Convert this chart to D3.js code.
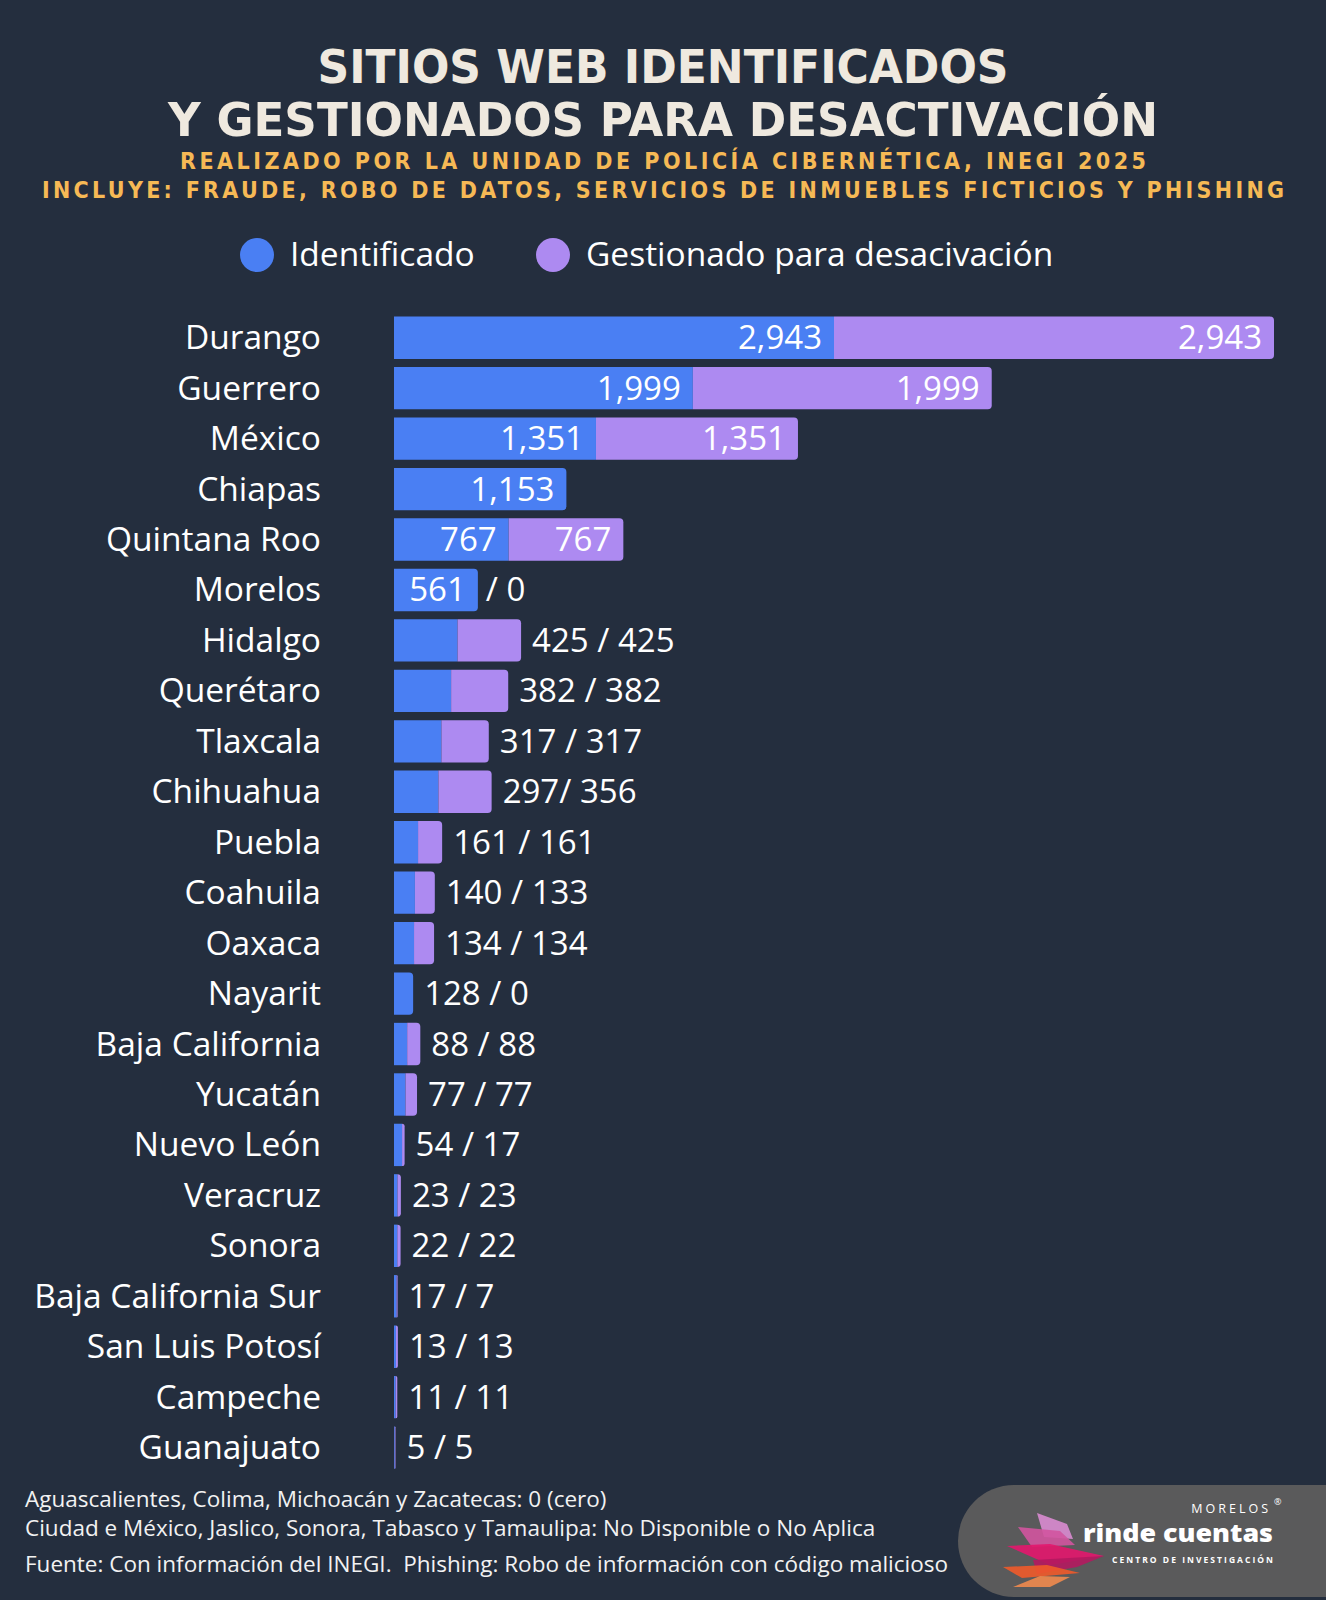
<!DOCTYPE html>
<html><head><meta charset="utf-8">
<script src="https://cdn.jsdelivr.net/npm/d3@7"></script>
<style>
html,body{margin:0;padding:0;background:#242e3e;}
svg{display:block;}
</style></head><body>
<svg id="chart" width="1326" height="1600"></svg>
<script>
// ---------- DATA ----------
const estados = ["Durango","Guerrero","México","Chiapas","Quintana Roo","Morelos","Hidalgo","Querétaro","Tlaxcala","Chihuahua","Puebla","Coahuila","Oaxaca","Nayarit","Baja California","Yucatán","Nuevo León","Veracruz","Sonora","Baja California Sur","San Luis Potosí","Campeche","Guanajuato"];
const identificado = [2943,1999,1351,1153,767,561,425,382,317,297,161,140,134,128,88,77,54,23,22,17,13,11,5];
const gestionado   = [2943,1999,1351,null,767,0,425,382,317,356,161,133,134,0,88,77,17,23,22,7,13,11,5];
const series = ["Identificado","Gestionado para desacivación"];
const titulo = ["SITIOS WEB IDENTIFICADOS","Y GESTIONADOS PARA DESACTIVACIÓN"];
const subtitulo = ["REALIZADO POR LA UNIDAD DE POLICÍA CIBERNÉTICA, INEGI 2025","INCLUYE: FRAUDE, ROBO DE DATOS, SERVICIOS DE INMUEBLES FICTICIOS Y PHISHING"];
const notas = ["Aguascalientes, Colima, Michoacán y Zacatecas: 0 (cero)","Ciudad e México, Jaslico, Sonora, Tabasco y Tamaulipa: No Disponible o No Aplica","Fuente: Con información del INEGI.  Phishing: Robo de información con código malicioso"];

// ---------- STYLE ----------
const W = 1326, H = 1600;
const colores = ["#4a7ff3", "#ad8af1"];
const bg = "#242e3e";
const sans = "'Open Sans', 'Noto Sans', sans-serif";
const display = "'Liberation Sans Narrow', 'DejaVu Sans Condensed', 'Roboto', sans-serif";

const svg = d3.select("#chart");
svg.append("rect").attr("width", W).attr("height", H).attr("fill", bg);

// ---------- TITLES ----------
const titleW = [691, 990];
const titleY = [83, 136];
svg.selectAll("text.title").data(titulo).join("text")
  .attr("class","title")
  .attr("x", W/2).attr("y", (d,i)=>titleY[i])
  .attr("text-anchor","middle")
  .attr("font-family", display).attr("font-weight", 700).attr("font-size", 47)
  .attr("fill", "#efe9df")
  .attr("textLength", (d,i)=>titleW[i]).attr("lengthAdjust","spacingAndGlyphs")
  .text(d=>d);

const subW = [966, 1242];
const subY = [169, 198];
svg.selectAll("text.sub").data(subtitulo).join("text")
  .attr("class","sub")
  .attr("x", W/2).attr("y", (d,i)=>subY[i])
  .attr("text-anchor","middle")
  .attr("font-family", display).attr("font-weight", 700).attr("font-size", 23)
  .attr("fill", "#f6b955")
  .attr("textLength", (d,i)=>subW[i]).attr("lengthAdjust","spacing")
  .text(d=>d);

// ---------- LEGEND ----------
const legX = [257, 553];
const leg = svg.selectAll("g.leg").data(series).join("g").attr("class","leg")
  .attr("transform", (d,i)=>`translate(${legX[i]},255)`);
leg.append("circle").attr("r", 17).attr("fill", (d,i)=>colores[i]);
leg.append("text").attr("x", 33).attr("y", 11)
  .attr("font-family", sans).attr("font-size", 33.5).attr("fill", "#ffffff")
  .text(d=>d);

// ---------- SCALES ----------
const y = d3.scaleBand().domain(estados)
  .range([312.5, 312.5 + estados.length * 50.45])
  .paddingInner(0.16).paddingOuter(0.08);
const x = d3.scaleLinear().domain([0, 2943*2]).range([394, 1274]);
const fmt = d3.format(",");

// category labels
svg.append("g").selectAll("text").data(estados).join("text")
  .attr("x", 321).attr("y", d => y(d) + y.bandwidth()/2 + 11.5)
  .attr("text-anchor","end")
  .attr("font-family", sans).attr("font-size", 33.5).attr("fill", "#ffffff")
  .text(d=>d);

// bars
function segPath(x0, x1, yy, h, roundRight) {
  const w = Math.max(0, x1 - x0);
  if (!roundRight) return `M${x0},${yy}H${x1}V${yy+h}H${x0}Z`;
  const r = Math.min(4, w, h/2);
  return `M${x0},${yy}H${x1-r}Q${x1},${yy} ${x1},${yy+r}V${yy+h-r}Q${x1},${yy+h} ${x1-r},${yy+h}H${x0}Z`;
}

const rows = estados.map((e,i)=>({e, a: identificado[i], b: gestionado[i]}));
const gBars = svg.append("g");
rows.forEach(r => {
  const yy = y(r.e), h = y.bandwidth();
  const hasB = r.b != null && r.b > 0;
  gBars.append("path").attr("fill", colores[0])
    .attr("d", segPath(x(0), x(r.a), yy, h, !hasB));
  if (hasB) {
    gBars.append("path").attr("fill", colores[1])
      .attr("d", segPath(x(r.a), x(r.a + r.b), yy, h, true));
  }
});

// value labels
const gLab = svg.append("g").attr("font-family", sans).attr("font-size", 33).attr("fill", "#ffffff");
rows.forEach(r => {
  const cy = y(r.e) + y.bandwidth()/2 + 11.5;
  const hasB = r.b != null && r.b > 0;
  if (r.a >= 500) {
    gLab.append("text").attr("x", x(r.a) - 12).attr("y", cy).attr("text-anchor","end").text(fmt(r.a));
    if (hasB) {
      gLab.append("text").attr("x", x(r.a + r.b) - 12).attr("y", cy).attr("text-anchor","end").text(fmt(r.b));
    } else if (r.b === 0) {
      gLab.append("text").attr("x", x(r.a) + 8).attr("y", cy).text("/ " + fmt(r.b));
    }
  } else {
    const end = x(r.a + (r.b || 0));
    gLab.append("text").attr("x", end + 11).attr("y", cy)
      .text(r.e === "Chihuahua" ? `${fmt(r.a)}/ ${fmt(r.b)}` : `${fmt(r.a)} / ${fmt(r.b)}`);
  }
});

// ---------- FOOTNOTES ----------
const notaY = [1507, 1536, 1572];
svg.append("g").selectAll("text").data(notas).join("text")
  .attr("x", 25).attr("y", (d,i)=>notaY[i])
  .attr("font-family", sans).attr("font-size", 22.5).attr("fill", "#f2f2f2")
  .style("white-space","pre").attr("xml:space","preserve")
  .text(d=>d);

// ---------- LOGO ----------
const logo = svg.append("g");
logo.append("rect").attr("x", 958).attr("y", 1485).attr("width", 440).attr("height", 112).attr("rx", 56)
  .attr("fill", "#5a5a5b");
const plumas = [
  {c:"#d98bd0", p:[[1037,1513],[1067,1524],[1073,1539],[1044,1537]]},
  {c:"#d2549f", p:[[1018,1527],[1060,1531],[1075,1545],[1032,1547]]},
  {c:"#e3166d", p:[[1007,1546],[1050,1544],[1104,1556],[1050,1565]]},
  {c:"#b31a5f", p:[[1033,1560],[1104,1556],[1077,1567],[1037,1574]]},
  {c:"#ef5a2a", p:[[1003,1567],[1047,1565],[1080,1573],[1022,1578]]},
  {c:"#f08a4e", p:[[1013,1587],[1040,1576],[1070,1577],[1050,1587]]}
];
logo.selectAll("polygon").data(plumas).join("polygon")
  .attr("points", d=>d.p.map(q=>q.join(",")).join(" "))
  .attr("fill", d=>d.c).attr("opacity", 0.9);
logo.append("text").attr("x", 1271).attr("y", 1512.5).attr("text-anchor","end")
  .attr("font-family", sans).attr("font-size", 12.5).attr("letter-spacing", 3).attr("fill", "#ffffff")
  .text("MORELOS");
logo.append("text").attr("x", 1274).attr("y", 1505)
  .attr("font-family", sans).attr("font-size", 9).attr("fill", "#ffffff").text("®");
logo.append("text").attr("x", 1273).attr("y", 1542).attr("text-anchor","end")
  .attr("font-family", sans).attr("font-weight", 800).attr("font-size", 24).attr("fill", "#ffffff")
  .attr("textLength", 190).attr("lengthAdjust","spacingAndGlyphs")
  .text("rinde cuentas");
logo.append("text").attr("x", 1273).attr("y", 1562.5).attr("text-anchor","end")
  .attr("font-family", sans).attr("font-weight", 700).attr("font-size", 8.5).attr("fill", "#ffffff")
  .attr("textLength", 161).attr("lengthAdjust","spacing")
  .text("CENTRO DE INVESTIGACIÓN");
</script>
</body></html>
